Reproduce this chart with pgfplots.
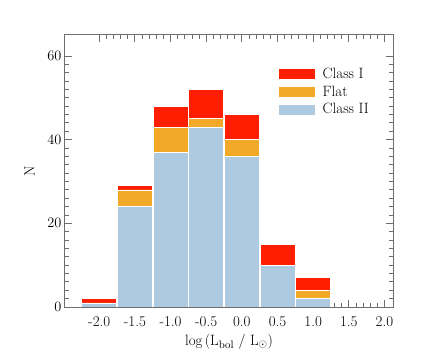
\documentclass[border=0pt]{standalone}
\usepackage{pgfplots}
\pgfplotsset{compat=1.18}

\definecolor{cI}{HTML}{FF1E00}
\definecolor{cflat}{HTML}{F2A928}
\definecolor{cII}{HTML}{AECAE0}
\definecolor{axgray}{HTML}{6E6E6E}

\pgfplotstableread{
x    classII flat classI
-2.0 1       0    1
-1.5 24      4    1
-1.0 37      6    5
-0.5 43      2    7
0.0  36      4    6
0.5  10      0    5
1.0  2       2    3
}\lumdata

\begin{document}
\begin{tikzpicture}
\useasboundingbox (-65bp,-56bp) rectangle (371bp,307bp);
\begin{axis}[
  scale only axis,
  width=328bp, height=272bp,
  xmin=-2.48, xmax=2.12,
  ymin=0, ymax=65,
  ybar stacked,
  bar width=0.49,
  axis line style={axgray, line width=1bp},
  every tick/.style={axgray, line width=0.8bp},
  tick align=inside,
  major tick length=7bp,
  minor tick length=4bp,
  xtick={-2,-1.5,...,2},
  xticklabels={-2.0,-1.5,-1.0,-0.5,0.0,0.5,1.0,1.5,2.0},
  minor x tick num=4,
  ytick={0,20,40,60},
  minor y tick num=9,
  tick label style={font=\fontsize{15}{18}\selectfont},
  xticklabel style={yshift=-6bp},
  label style={font=\fontsize{15}{18}\selectfont},
  xlabel={log\,(L$_\mathrm{bol}$ / L$_\odot$)},
  ylabel={N},
  xlabel style={yshift=-1bp},
  ylabel style={yshift=6bp},
  reverse legend,
  legend style={at={(0.64,0.895)}, anchor=north west, draw=none, fill=none,
    font=\fontsize{15}{18}\selectfont, row sep=2bp},
  legend image code/.code={\fill[#1] (0bp,-5.5bp) rectangle (37bp,5.5bp);
    \path (42bp,0bp);},
  legend cell align=left,
]
\addplot[fill=cII, draw=white, line width=0.6bp] table[x=x, y=classII] {\lumdata};
\addplot[fill=cflat, draw=white, line width=0.6bp] table[x=x, y=flat] {\lumdata};
\addplot[fill=cI, draw=white, line width=0.6bp] table[x=x, y=classI] {\lumdata};
\legend{Class II, Flat, Class I}
\end{axis}
\end{tikzpicture}
\end{document}
